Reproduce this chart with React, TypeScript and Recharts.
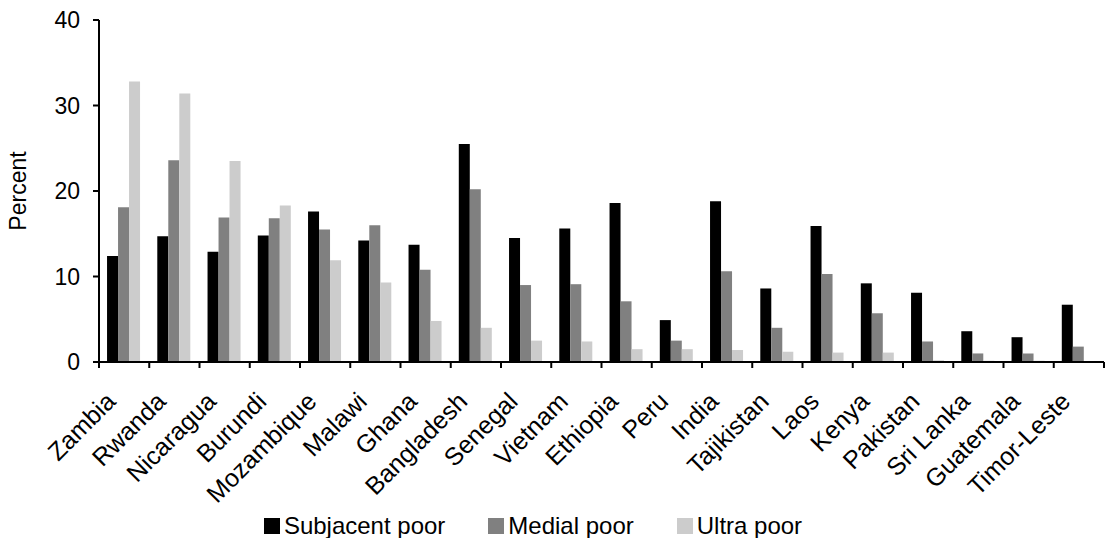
import { Bar, BarChart, Legend, XAxis, YAxis } from 'recharts';

const countries = [
  'Zambia', 'Rwanda', 'Nicaragua', 'Burundi', 'Mozambique', 'Malawi', 'Ghana',
  'Bangladesh', 'Senegal', 'Vietnam', 'Ethiopia', 'Peru', 'India', 'Tajikistan',
  'Laos', 'Kenya', 'Pakistan', 'Sri Lanka', 'Guatemala', 'Timor-Leste',
];
const subjacentPoor = [12.4, 14.7, 12.9, 14.8, 17.6, 14.2, 13.7, 25.5, 14.5, 15.6, 18.6, 4.9, 18.8, 8.6, 15.9, 9.2, 8.1, 3.6, 2.9, 6.7];
const medialPoor = [18.1, 23.6, 16.9, 16.8, 15.5, 16.0, 10.8, 20.2, 9.0, 9.1, 7.1, 2.5, 10.6, 4.0, 10.3, 5.7, 2.4, 1.0, 1.0, 1.8];
const ultraPoor = [32.8, 31.4, 23.5, 18.3, 11.9, 9.3, 4.8, 4.0, 2.5, 2.4, 1.5, 1.5, 1.4, 1.2, 1.1, 1.1, 0.2, 0.15, 0.15, 0];
const yTicks = [0, 10, 20, 30, 40];

const SERIES = [
  { key: 'subjacent', name: 'Subjacent poor', color: '#000000' },
  { key: 'medial', name: 'Medial poor', color: '#808080' },
  { key: 'ultra', name: 'Ultra poor', color: '#cccccc' },
];

const WIDTH = 1107;
const HEIGHT = 538;
const MARGIN = { top: 20, right: 3, left: 0, bottom: 0 };
const Y_AXIS_W = 99;
const FONT = '"Liberation Sans", Arial, sans-serif';
const HALF_BAND = (WIDTH - MARGIN.right - Y_AXIS_W) / countries.length / 2;

const data = countries.map((name, i) => ({
  name,
  subjacent: subjacentPoor[i],
  medial: medialPoor[i],
  ultra: ultraPoor[i],
}));

function CountryTick(props: any) {
  const { x, y, payload, index } = props;
  const tx = x - 7;
  const ty = y + 41;
  return (
    <g>
      <line x1={x - HALF_BAND} y1={y} x2={x - HALF_BAND} y2={y + 6} stroke="#000" strokeWidth={2} />
      {index === countries.length - 1 && (
        <line x1={x + HALF_BAND} y1={y} x2={x + HALF_BAND} y2={y + 6} stroke="#000" strokeWidth={2} />
      )}
      <text
        x={tx}
        y={ty}
        textAnchor="end"
        transform={`rotate(-45, ${tx}, ${ty})`}
        fontSize={25}
        fontFamily={FONT}
        fill="#000"
      >
        {payload.value}
      </text>
    </g>
  );
}

function LegendBox() {
  return (
    <div
      style={{
        height: 26,
        display: 'flex',
        justifyContent: 'center',
        paddingRight: 38,
        fontFamily: FONT,
        fontSize: 24,
        lineHeight: '28px',
        color: '#000',
      }}
    >
      {SERIES.map((s, i) => (
        <div
          key={s.key}
          style={{ display: 'flex', alignItems: 'center', marginLeft: i === 0 ? 0 : 43, height: 28 }}
        >
          <span style={{ width: 16, height: 16, background: s.color, marginRight: 4, display: 'inline-block' }} />
          <span>{s.name}</span>
        </div>
      ))}
    </div>
  );
}

export default function App() {
  return (
    <div style={{ position: 'absolute', left: 0, top: 0, background: '#fff' }}>
      <BarChart
        width={WIDTH}
        height={HEIGHT}
        data={data}
        margin={MARGIN}
        barGap={0}
        barCategoryGap="16%"
      >
        <XAxis
          dataKey="name"
          interval={0}
          height={150}
          tickSize={0}
          tickMargin={0}
          axisLine={{ stroke: '#000', strokeWidth: 2 }}
          tick={<CountryTick />}
        />
        <YAxis
          width={Y_AXIS_W}
          domain={[0, 40]}
          ticks={yTicks}
          interval={0}
          tickSize={6}
          tickMargin={13}
          axisLine={{ stroke: '#000', strokeWidth: 2 }}
          tickLine={{ stroke: '#000', strokeWidth: 2 }}
          tick={{ fontSize: 23, fontFamily: FONT, fill: '#000' }}
          label={{
            content: () => (
              <text
                x={26}
                y={191}
                textAnchor="middle"
                transform="rotate(-90, 26, 191)"
                fontSize={23}
                fontFamily={FONT}
                fill="#000"
              >
                Percent
              </text>
            ),
          }}
        />
        <Legend verticalAlign="bottom" content={<LegendBox />} />
        {SERIES.map((s) => (
          <Bar key={s.key} dataKey={s.key} name={s.name} fill={s.color} isAnimationActive={false} />
        ))}
      </BarChart>
    </div>
  );
}
